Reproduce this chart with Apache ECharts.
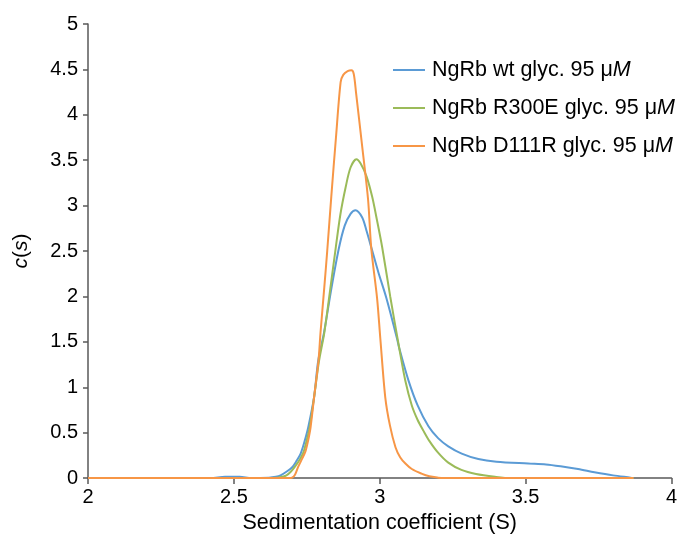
<!DOCTYPE html>
<html>
<head>
<meta charset="utf-8">
<script src="https://cdn.jsdelivr.net/npm/echarts@6/dist/echarts.min.js"></script>
<style>html,body{margin:0;padding:0;background:#fff;}#c{width:680px;height:539px;}</style>
</head>
<body>
<div id="c"></div>
<script>
const seriesNames = ['NgRb wt glyc. 95 μM', 'NgRb R300E glyc. 95 μM', 'NgRb D111R glyc. 95 μM'];
const xTicks = [2, 2.5, 3, 3.5, 4];
const yTicks = [0, 0.5, 1, 1.5, 2, 2.5, 3, 3.5, 4, 4.5, 5];

const wtS = [2.0, 2.42, 2.47, 2.52, 2.56, 2.62, 2.644, 2.66, 2.68, 2.70, 2.715, 2.729, 2.742, 2.755, 2.775, 2.789, 2.809, 2.835, 2.86, 2.88, 2.9, 2.917, 2.94, 2.955, 2.972, 2.995, 3.023, 3.059, 3.067, 3.099, 3.13, 3.167, 3.2, 3.235, 3.281, 3.338, 3.4, 3.509, 3.57, 3.62, 3.68, 3.736, 3.8, 3.86, 3.87];
const wtC = [0, 0, 0.015, 0.015, 0, 0.005, 0.015, 0.03, 0.07, 0.12, 0.19, 0.27, 0.4, 0.56, 0.89, 1.29, 1.6, 2.1, 2.53, 2.78, 2.91, 2.95, 2.87, 2.72, 2.53, 2.27, 1.98, 1.54, 1.43, 1.07, 0.8, 0.57, 0.44, 0.35, 0.27, 0.21, 0.18, 0.16, 0.15, 0.13, 0.1, 0.065, 0.03, 0.005, 0];

const r300eS = [2.0, 2.6, 2.65, 2.666, 2.68, 2.695, 2.71, 2.725, 2.738, 2.75, 2.76, 2.775, 2.792, 2.81, 2.83, 2.849, 2.865, 2.883, 2.9, 2.92, 2.935, 2.955, 2.974, 2.99, 3.008, 3.036, 3.067, 3.088, 3.11, 3.13, 3.15, 3.17, 3.2, 3.235, 3.28, 3.33, 3.395, 3.45, 3.87];
const r300eC = [0, 0, 0.005, 0.015, 0.03, 0.07, 0.13, 0.2, 0.28, 0.42, 0.56, 0.89, 1.29, 1.6, 2.07, 2.53, 2.9, 3.2, 3.42, 3.51, 3.46, 3.32, 3.1, 2.85, 2.55, 2.0, 1.43, 1.07, 0.8, 0.64, 0.52, 0.41, 0.28, 0.17, 0.09, 0.045, 0.015, 0, 0];

const d111rS = [2.0, 2.69, 2.70, 2.71, 2.72, 2.735, 2.746, 2.755, 2.763, 2.775, 2.79, 2.797, 2.81, 2.82, 2.834, 2.85, 2.866, 2.875, 2.89, 2.903, 2.911, 2.919, 2.94, 2.96, 2.971, 2.991, 3.002, 3.019, 3.035, 3.054, 3.07, 3.088, 3.11, 3.143, 3.17, 3.2, 3.22, 3.87];
const d111rC = [0, 0, 0.005, 0.04, 0.12, 0.22, 0.3, 0.42, 0.56, 0.89, 1.29, 1.6, 2.1, 2.5, 3.1, 3.75, 4.36, 4.44, 4.48, 4.49, 4.45, 4.24, 3.65, 3.07, 2.53, 1.98, 1.54, 0.89, 0.58, 0.34, 0.23, 0.16, 0.1, 0.05, 0.02, 0.005, 0, 0];

const colors = ['#5B9BD5', '#9BBB59', '#F79646'];
const pairs = (xs, ys) => xs.map((x, i) => [x, ys[i]]);
const seriesData = [pairs(wtS, wtC), pairs(r300eS, r300eC), pairs(d111rS, d111rC)];

const chart = echarts.init(document.getElementById('c'), null, {renderer: 'canvas'});
const FONT = '"Liberation Sans", Arial, sans-serif';
chart.setOption({
  animation: false,
  backgroundColor: '#ffffff',
  grid: {left: 88, right: 6, top: 24, bottom: 58, containLabel: false},
  legend: {
    orient: 'vertical',
    left: 388,
    top: 54,
    itemWidth: 32,
    itemHeight: 2,
    itemGap: 16,
    icon: 'rect',
    data: seriesNames,
    formatter: function (n) { return n.replace(/M$/, '{i|M}'); },
    textStyle: {
      fontFamily: FONT, fontSize: 21.5, color: '#000', padding: [0, 0, 0, 2],
      rich: {i: {fontFamily: FONT, fontSize: 21.5, fontStyle: 'italic', color: '#000'}}
    }
  },
  xAxis: {
    type: 'value', min: xTicks[0], max: xTicks[xTicks.length - 1], interval: 0.5,
    name: 'Sedimentation coefficient (S)', nameLocation: 'middle', nameGap: 29,
    nameTextStyle: {fontFamily: FONT, fontSize: 21.5, color: '#000'},
    axisLine: {show: true, lineStyle: {color: '#595959', width: 1.5}},
    axisTick: {show: true, inside: false, length: 6, lineStyle: {color: '#595959', width: 1.5}},
    axisLabel: {fontFamily: FONT, fontSize: 20, color: '#000', margin: 9},
    splitLine: {show: false}
  },
  yAxis: {
    type: 'value', min: yTicks[0], max: yTicks[yTicks.length - 1], interval: 0.5,
    name: '{i|c}(' + '{i|s})', nameLocation: 'middle', nameGap: 56, nameRotate: 90,
    nameTextStyle: {fontFamily: FONT, fontSize: 21, color: '#000',
      rich: {i: {fontFamily: FONT, fontSize: 21, fontStyle: 'italic', color: '#000'}}},
    axisLine: {show: true, lineStyle: {color: '#595959', width: 1.5}},
    axisTick: {show: true, inside: false, length: 5, lineStyle: {color: '#595959', width: 1.5}},
    axisLabel: {fontFamily: FONT, fontSize: 20, color: '#000', margin: 10},
    splitLine: {show: false}
  },
  series: seriesNames.map((n, i) => ({
    name: n, type: 'line', data: seriesData[i], showSymbol: false, symbol: 'none',
    smooth: 0.3, lineStyle: {color: colors[i], width: 2}, itemStyle: {color: colors[i]}, z: 2 + i
  }))
});
</script>
</body>
</html>
